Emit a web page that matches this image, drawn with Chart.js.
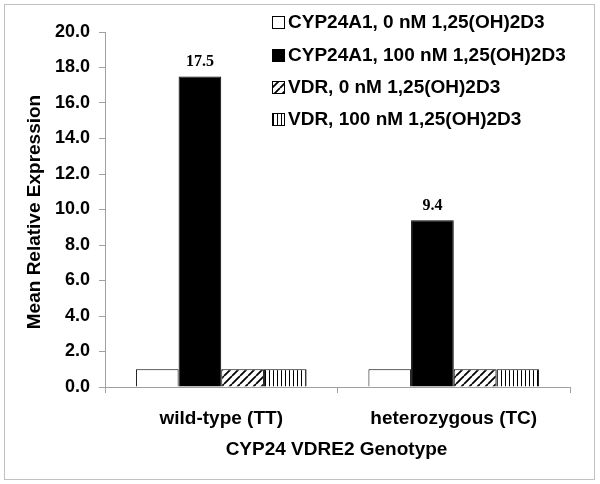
<!DOCTYPE html>
<html><head><meta charset="utf-8">
<script src="https://cdn.jsdelivr.net/npm/chart.js@4"></script>
<style>html,body{margin:0;padding:0;background:#fff}#wrap{width:600px;height:484px;position:relative}</style>
</head><body><div id="wrap"><canvas id="c" width="600" height="484"></canvas></div>
<script>
const categories = ["wild-type (TT)", "heterozygous (TC)"];
const seriesNames = ["CYP24A1, 0 nM 1,25(OH)2D3", "CYP24A1, 100 nM 1,25(OH)2D3", "VDR, 0 nM 1,25(OH)2D3", "VDR, 100 nM 1,25(OH)2D3"];
const cyp0 = [1.0, 1.0];
const cyp100 = [17.5, 9.4];
const vdr0 = [1.0, 1.0];
const vdr100 = [1.0, 1.0];
const labelledSeries = [1];
const yTitle = "Mean Relative Expression";
const xTitle = "CYP24 VDRE2 Genotype";

function diagPattern(){
  const p=document.createElement('canvas');p.width=8;p.height=8;const g=p.getContext('2d');
  g.fillStyle='#fff';g.fillRect(0,0,8,8);g.strokeStyle='#000';g.lineWidth=1.8;
  g.beginPath();
  for(let k=-8;k<=16;k+=8){g.moveTo(k,8);g.lineTo(k+8,0);}
  g.stroke();
  return document.getElementById('c').getContext('2d').createPattern(p,'repeat');
}
function vertPattern(){
  const p=document.createElement('canvas');p.width=4;p.height=4;const g=p.getContext('2d');
  g.fillStyle='#fff';g.fillRect(0,0,4,4);g.fillStyle='#000';g.fillRect(1,0,1,4);
  return document.getElementById('c').getContext('2d').createPattern(p,'repeat');
}
const fills=['#ffffff','#000000',diagPattern(),vertPattern()];
const values=[cyp0,cyp100,vdr0,vdr100];
const FONT="'Liberation Sans', Arial, sans-serif";

const frame={id:'frame',beforeDraw(ch){const c=ch.ctx;c.save();c.fillStyle='#fff';c.fillRect(0,0,ch.width,ch.height);c.strokeStyle='#c0c0c0';c.lineWidth=1;c.strokeRect(4.5,4.5,590,475);c.restore();}};
const legendPlug={id:'legendPlug',afterDraw(ch){const c=ch.ctx;c.save();c.font="bold 19px "+FONT;c.textBaseline='middle';c.fillStyle='#000';
  const ys=[22,55,87,119];
  ch.data.datasets.forEach((d,i)=>{c.fillStyle=d.backgroundColor;c.fillRect(272,ys[i]-6,13,13);c.strokeStyle='#000';c.lineWidth=1;c.strokeRect(272.5,ys[i]-5.5,12,12);c.fillStyle='#000';c.fillText(d.label,288,ys[i]+1);});
  c.restore();}};
const titles={id:'titles',afterDraw(ch){const c=ch.ctx;const a=ch.chartArea;c.save();c.fillStyle='#000';c.font="bold 19px "+FONT;c.textAlign='center';c.textBaseline='middle';
  c.fillText(xTitle,(a.left+a.right)/2-1,450);
  c.translate(35,212);c.rotate(-Math.PI/2);c.fillText(yTitle,0,0);c.restore();}};
const valLabels={id:'valLabels',afterDatasetsDraw(ch){const c=ch.ctx;c.save();c.font="bold 16px 'Liberation Serif', 'Times New Roman', serif";c.textAlign='center';c.textBaseline='alphabetic';c.fillStyle='#000';
  labelledSeries.forEach(si=>{const meta=ch.getDatasetMeta(si);meta.data.forEach((el,j)=>{c.fillText(values[si][j].toFixed(1),el.x,el.y-10);});});c.restore();}};

new Chart(document.getElementById('c'),{
  type:'bar',
  data:{labels:categories,datasets:seriesNames.map((n,i)=>({label:n,data:values[i],backgroundColor:fills[i],borderColor:'#000',borderWidth:1,categoryPercentage:0.734,barPercentage:1}))},
  options:{responsive:false,animation:false,devicePixelRatio:1,
    layout:{padding:{left:0,right:30,top:32,bottom:0}},
    plugins:{legend:{display:false},tooltip:{enabled:false}},
    scales:{
      y:{min:0,max:20,ticks:{stepSize:2,color:'#000',font:{family:FONT,weight:'bold',size:18},padding:9,callback:v=>v.toFixed(1)},
         grid:{drawOnChartArea:false,drawTicks:true,tickLength:6,color:'#a0a0a0'},border:{color:'#a0a0a0'},
         afterFit(s){s.width=105;}},
      x:{ticks:{color:'#000',font:{family:FONT,weight:'bold',size:19},padding:14},
         grid:{offset:true,drawOnChartArea:false,drawTicks:true,tickLength:6,color:'#a0a0a0'},border:{color:'#a0a0a0'},
         afterFit(s){s.height=97;}}
    }},
  plugins:[frame,legendPlug,titles,valLabels]
});
</script></body></html>
